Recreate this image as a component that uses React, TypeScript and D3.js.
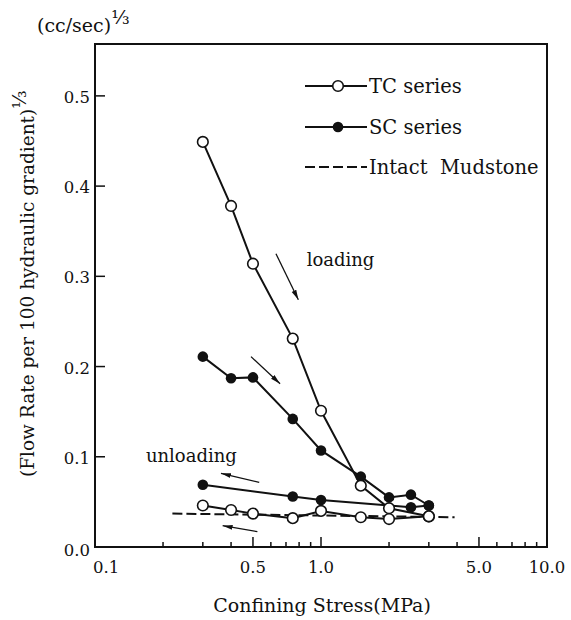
import React from 'react';
import * as d3 from 'd3';

// stress (MPa) / flow rate (cube root)
const tcLoadStress = [0.3, 0.4, 0.5, 0.75, 1.0, 1.5, 2.0, 3.0];
const tcLoadFlow = [0.449, 0.378, 0.314, 0.231, 0.151, 0.068, 0.043, 0.034];
const tcUnloadStress = [3.0, 2.0, 1.5, 1.0, 0.75, 0.5, 0.4, 0.3];
const tcUnloadFlow = [0.034, 0.031, 0.033, 0.040, 0.032, 0.037, 0.041, 0.046];

const scLoadStress = [0.3, 0.4, 0.5, 0.75, 1.0, 1.5, 2.0, 2.5, 3.0];
const scLoadFlow = [0.211, 0.187, 0.188, 0.142, 0.107, 0.078, 0.055, 0.058, 0.046];
const scUnloadStress = [3.0, 2.5, 1.0, 0.75, 0.3];
const scUnloadFlow = [0.046, 0.044, 0.052, 0.056, 0.069];

const mudStress = [0.22, 3.9];
const mudFlow = [0.037, 0.033];

const xMajorTicks = [0.1, 0.5, 1.0, 5.0, 10.0];
const xMajorLabels = ['0.1', '0.5', '1.0', '5.0', '10.0'];
const xMinorTicks = [0.2, 0.3, 0.4, 0.6, 0.7, 0.8, 0.9, 2, 3, 4, 6, 7, 8, 9];
const yTicks = [0, 0.1, 0.2, 0.3, 0.4, 0.5];
const yLabels = ['0.0', '0.1', '0.2', '0.3', '0.4', '0.5'];

const legendNames = ['TC series', 'SC series', 'Intact  Mudstone'];

// annotation arrows, [stress, flow] start -> end
const arrows = [
  [[0.632, 0.325], [0.794, 0.274]],
  [[0.49, 0.211], [0.659, 0.181]],
  [[0.533, 0.0717], [0.361, 0.0817]],
  [[0.523, 0.017], [0.367, 0.0236]],
];
const notes = [
  { text: 'loading', at: [0.864, 0.312] },
  { text: 'unloading', at: [0.168, 0.0946] },
];

const W = 571;
const H = 620;
const MARGIN = { top: 44, right: 24, bottom: 73, left: 95 };
const FONT = '"DejaVu Serif", serif';

const zip = (xs: number[], ys: number[]) => xs.map((x, i) => [x, ys[i]] as [number, number]);

const App = () => {
  const x = d3.scaleLog().domain([0.1, 10]).range([MARGIN.left, W - MARGIN.right]);
  const y = d3.scaleLinear().domain([0, 0.5575]).range([H - MARGIN.bottom, MARGIN.top]);
  const line = d3.line<[number, number]>().x(d => x(d[0])).y(d => y(d[1]));

  const tcLoad = zip(tcLoadStress, tcLoadFlow);
  const tcUnload = zip(tcUnloadStress, tcUnloadFlow);
  const scLoad = zip(scLoadStress, scLoadFlow);
  const scUnload = zip(scUnloadStress, scUnloadFlow);
  const mud = zip(mudStress, mudFlow);

  const x0 = MARGIN.left;
  const x1 = W - MARGIN.right;
  const y0 = H - MARGIN.bottom;
  const y1 = MARGIN.top;

  const legendX = 305;
  const legendY = [86, 127, 167];

  return (
    <div style={{ position: 'absolute', left: 0, top: 0 }}>
      <svg width={W} height={H} style={{ display: 'block', background: '#fff' }} fontFamily={FONT}>
        <defs>
          <marker id="ah" viewBox="0 0 10 6" refX="10" refY="3" markerWidth="10" markerHeight="6" markerUnits="userSpaceOnUse" orient="auto">
            <path d="M0,0.5 L10,3 L0,5.5 Z" fill="#111" />
          </marker>
        </defs>

        {/* frame */}
        <rect x={x0} y={y1} width={x1 - x0} height={y0 - y1} fill="none" stroke="#111" strokeWidth={2} />

        {/* x ticks */}
        {xMajorTicks.map(t => (
          <line key={'xM' + t} x1={x(t)} x2={x(t)} y1={y0} y2={y0 - 10} stroke="#111" strokeWidth={1.5} />
        ))}
        {xMinorTicks.map(t => (
          <line key={'xm' + t} x1={x(t)} x2={x(t)} y1={y0} y2={y0 - 5} stroke="#111" strokeWidth={1.5} />
        ))}
        {xMajorTicks.map((t, i) => (
          <text key={'xl' + t} x={i === 0 ? x(t) - 2 : x(t)} y={y0 + 26} fontSize={16.5}
            textAnchor={i === 0 ? 'start' : 'middle'} fill="#111">{xMajorLabels[i]}</text>
        ))}

        {/* y ticks */}
        {yTicks.map((t, i) => (
          <g key={'y' + t}>
            {i > 0 && <line x1={x0} x2={x0 + 10} y1={y(t)} y2={y(t)} stroke="#111" strokeWidth={1.5} />}
            <text x={x0 - 5} y={y(t) + (i === 0 ? 9 : 7)} fontSize={16.5} textAnchor="end" fill="#111">{yLabels[i]}</text>
          </g>
        ))}

        {/* axis titles */}
        <text x={(x0 + x1) / 2 + 1} y={612} fontSize={19} textAnchor="middle" fill="#111">Confining Stress(MPa)</text>
        <text transform={`translate(34,477) rotate(-90)`} fontSize={18.5} fill="#111">
          (Flow  Rate  per  100  hydraulic  gradient)
          <tspan fontSize={19} dy={-8}>⅓</tspan>
        </text>
        <text x={37} y={32} fontSize={19} fill="#111">
          (cc/sec)
          <tspan fontSize={19} dy={-8}>⅓</tspan>
        </text>

        {/* intact mudstone */}
        <path d={line(mud) || ''} fill="none" stroke="#111" strokeWidth={2} strokeDasharray="10 4" />

        {/* series lines */}
        {[tcLoad, tcUnload, scLoad, scUnload].map((s, i) => (
          <path key={'l' + i} d={line(s) || ''} fill="none" stroke="#111" strokeWidth={2} />
        ))}

        {/* markers */}
        {[...scLoad, ...scUnload].map((d, i) => (
          <circle key={'sc' + i} cx={x(d[0])} cy={y(d[1])} r={5.3} fill="#111" />
        ))}
        {[...tcLoad, ...tcUnload].map((d, i) => (
          <circle key={'tc' + i} cx={x(d[0])} cy={y(d[1])} r={5.3} fill="#fff" stroke="#111" strokeWidth={1.6} />
        ))}

        {/* arrows and notes */}
        {arrows.map((a, i) => (
          <line key={'a' + i} x1={x(a[0][0])} y1={y(a[0][1])} x2={x(a[1][0])} y2={y(a[1][1])}
            stroke="#111" strokeWidth={1.3} markerEnd="url(#ah)" />
        ))}
        {notes.map(n => (
          <text key={n.text} x={x(n.at[0])} y={y(n.at[1])} fontSize={18} fill="#111">{n.text}</text>
        ))}

        {/* legend */}
        {legendNames.map((name, i) => (
          <g key={name}>
            <line x1={legendX} x2={legendX + 62} y1={legendY[i]} y2={legendY[i]} stroke="#111" strokeWidth={2}
              strokeDasharray={i === 2 ? '10 4' : undefined} />
            {i === 0 && <circle cx={legendX + 33} cy={legendY[i]} r={5.3} fill="#fff" stroke="#111" strokeWidth={1.6} />}
            {i === 1 && <circle cx={legendX + 33} cy={legendY[i]} r={5.3} fill="#111" />}
            <text x={legendX + 64} y={legendY[i] + 7} fontSize={19.5} fill="#111" style={{ whiteSpace: 'pre' }}>{name}</text>
          </g>
        ))}
      </svg>
    </div>
  );
};

export default App;
